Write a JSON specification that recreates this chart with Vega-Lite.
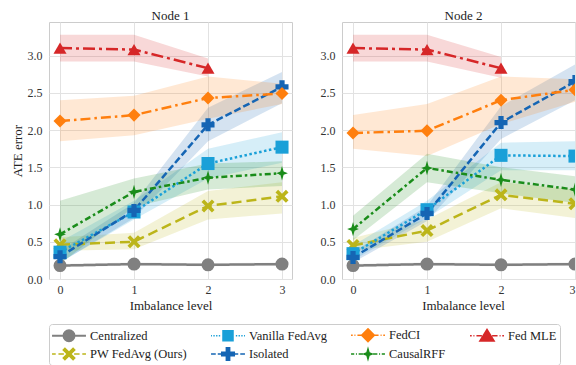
{
  "$schema": "https://vega.github.io/schema/vega-lite/v6.json",
  "background": "white",
  "padding": {"left": 10, "top": 9, "right": 0, "bottom": 0},
  "data": {"values": [
    {"node":"Node 1","method":"Centralized","level":0,"ate":0.18,"lo":0.16,"hi":0.20},
    {"node":"Node 1","method":"Centralized","level":1,"ate":0.20,"lo":0.18,"hi":0.22},
    {"node":"Node 1","method":"Centralized","level":2,"ate":0.19,"lo":0.17,"hi":0.21},
    {"node":"Node 1","method":"Centralized","level":3,"ate":0.20,"lo":0.18,"hi":0.22},
    {"node":"Node 1","method":"PW FedAvg (Ours)","level":0,"ate":0.46,"lo":0.38,"hi":0.56},
    {"node":"Node 1","method":"PW FedAvg (Ours)","level":1,"ate":0.50,"lo":0.40,"hi":0.62},
    {"node":"Node 1","method":"PW FedAvg (Ours)","level":2,"ate":0.98,"lo":0.80,"hi":1.18},
    {"node":"Node 1","method":"PW FedAvg (Ours)","level":3,"ate":1.11,"lo":0.88,"hi":1.30},
    {"node":"Node 1","method":"Vanilla FedAvg","level":0,"ate":0.36,"lo":0.22,"hi":0.50},
    {"node":"Node 1","method":"Vanilla FedAvg","level":1,"ate":0.90,"lo":0.80,"hi":1.05},
    {"node":"Node 1","method":"Vanilla FedAvg","level":2,"ate":1.55,"lo":1.35,"hi":1.75},
    {"node":"Node 1","method":"Vanilla FedAvg","level":3,"ate":1.77,"lo":1.56,"hi":1.97},
    {"node":"Node 1","method":"Isolated","level":0,"ate":0.30,"lo":0.22,"hi":0.38},
    {"node":"Node 1","method":"Isolated","level":1,"ate":0.92,"lo":0.82,"hi":1.02},
    {"node":"Node 1","method":"Isolated","level":2,"ate":2.07,"lo":1.85,"hi":2.30},
    {"node":"Node 1","method":"Isolated","level":3,"ate":2.58,"lo":2.36,"hi":2.78},
    {"node":"Node 1","method":"FedCI","level":0,"ate":2.12,"lo":1.85,"hi":2.40},
    {"node":"Node 1","method":"FedCI","level":1,"ate":2.20,"lo":1.93,"hi":2.46},
    {"node":"Node 1","method":"FedCI","level":2,"ate":2.43,"lo":2.15,"hi":2.72},
    {"node":"Node 1","method":"FedCI","level":3,"ate":2.49,"lo":2.35,"hi":2.62},
    {"node":"Node 1","method":"CausalRFF","level":0,"ate":0.60,"lo":0.20,"hi":1.05},
    {"node":"Node 1","method":"CausalRFF","level":1,"ate":1.17,"lo":0.97,"hi":1.35},
    {"node":"Node 1","method":"CausalRFF","level":2,"ate":1.36,"lo":1.20,"hi":1.55},
    {"node":"Node 1","method":"CausalRFF","level":3,"ate":1.42,"lo":1.25,"hi":1.58},
    {"node":"Node 1","method":"Fed MLE","level":0,"ate":3.10,"lo":2.92,"hi":3.28},
    {"node":"Node 1","method":"Fed MLE","level":1,"ate":3.08,"lo":2.92,"hi":3.28},
    {"node":"Node 1","method":"Fed MLE","level":2,"ate":2.83,"lo":2.72,"hi":2.96},
    {"node":"Node 2","method":"Centralized","level":0,"ate":0.18,"lo":0.16,"hi":0.20},
    {"node":"Node 2","method":"Centralized","level":1,"ate":0.20,"lo":0.18,"hi":0.22},
    {"node":"Node 2","method":"Centralized","level":2,"ate":0.19,"lo":0.17,"hi":0.21},
    {"node":"Node 2","method":"Centralized","level":3,"ate":0.20,"lo":0.18,"hi":0.22},
    {"node":"Node 2","method":"PW FedAvg (Ours)","level":0,"ate":0.45,"lo":0.38,"hi":0.55},
    {"node":"Node 2","method":"PW FedAvg (Ours)","level":1,"ate":0.65,"lo":0.50,"hi":0.80},
    {"node":"Node 2","method":"PW FedAvg (Ours)","level":2,"ate":1.13,"lo":0.95,"hi":1.30},
    {"node":"Node 2","method":"PW FedAvg (Ours)","level":3,"ate":1.01,"lo":0.82,"hi":1.20},
    {"node":"Node 2","method":"Vanilla FedAvg","level":0,"ate":0.34,"lo":0.25,"hi":0.45},
    {"node":"Node 2","method":"Vanilla FedAvg","level":1,"ate":0.93,"lo":0.82,"hi":1.05},
    {"node":"Node 2","method":"Vanilla FedAvg","level":2,"ate":1.66,"lo":1.46,"hi":1.83},
    {"node":"Node 2","method":"Vanilla FedAvg","level":3,"ate":1.65,"lo":1.46,"hi":1.85},
    {"node":"Node 2","method":"Isolated","level":0,"ate":0.29,"lo":0.22,"hi":0.36},
    {"node":"Node 2","method":"Isolated","level":1,"ate":0.88,"lo":0.78,"hi":0.98},
    {"node":"Node 2","method":"Isolated","level":2,"ate":2.10,"lo":1.88,"hi":2.32},
    {"node":"Node 2","method":"Isolated","level":3,"ate":2.65,"lo":2.40,"hi":2.88},
    {"node":"Node 2","method":"FedCI","level":0,"ate":1.96,"lo":1.75,"hi":2.20},
    {"node":"Node 2","method":"FedCI","level":1,"ate":1.99,"lo":1.65,"hi":2.35},
    {"node":"Node 2","method":"FedCI","level":2,"ate":2.40,"lo":2.08,"hi":2.72},
    {"node":"Node 2","method":"FedCI","level":3,"ate":2.54,"lo":2.38,"hi":2.68},
    {"node":"Node 2","method":"CausalRFF","level":0,"ate":0.67,"lo":0.52,"hi":0.85},
    {"node":"Node 2","method":"CausalRFF","level":1,"ate":1.49,"lo":1.30,"hi":1.68},
    {"node":"Node 2","method":"CausalRFF","level":2,"ate":1.33,"lo":1.15,"hi":1.50},
    {"node":"Node 2","method":"CausalRFF","level":3,"ate":1.20,"lo":1.02,"hi":1.38},
    {"node":"Node 2","method":"Fed MLE","level":0,"ate":3.10,"lo":2.92,"hi":3.28},
    {"node":"Node 2","method":"Fed MLE","level":1,"ate":3.08,"lo":2.92,"hi":3.28},
    {"node":"Node 2","method":"Fed MLE","level":2,"ate":2.83,"lo":2.70,"hi":2.98}
  ]},
  "spacing": 26,
  "hconcat": [
    {
      "title": "Node 1",
      "width": 243, "height": 257,
      "transform": [{"filter": "datum.node === 'Node 1'"}],
      "encoding": {
        "x": {"field": "level", "type": "quantitative", "scale": {"domain": [-0.149, 3.135], "nice": false, "zero": false}, "axis": {"values": [0,1,2,3], "title": "Imbalance level", "format": "d"}},
        "color": {"field": "method", "type": "nominal",
          "scale": {"domain": ["Centralized", "Vanilla FedAvg", "FedCI", "Fed MLE", "PW FedAvg (Ours)", "Isolated", "CausalRFF"],
                    "range": ["#808080", "#1aa0d8", "#ff7f0e", "#d62728", "#bcb51a", "#1565b4", "#1a8c1a"]},
          "legend": {"encode": {"symbols": {"update": {"opacity": {"value": 1}, "fillOpacity": {"value": 1}, "strokeWidth": {"value": 0}, "strokeDash": {"value": [1, 0]}}}}}}
      },
      "layer": [
        {"mark": {"type": "area", "opacity": 0.18},
         "encoding": {
           "y": {"field": "lo", "type": "quantitative", "scale": {"domain": [0, 3.45], "nice": false}, "axis": {"values": [0,0.5,1,1.5,2,2.5,3], "format": ".1f", "title": "ATE error"}},
           "y2": {"field": "hi"}
         }},
        {"mark": {"type": "line", "strokeWidth": 2.5},
         "encoding": {
           "y": {"field": "ate", "type": "quantitative"},
           "strokeDash": {"field": "method", "type": "nominal", "legend": null,
             "scale": {"domain": ["Centralized", "Vanilla FedAvg", "FedCI", "Fed MLE", "PW FedAvg (Ours)", "Isolated", "CausalRFF"],
                       "range": [[1,0], [2.5,2.5], [10,4,2.5,4], [12,4,3,4], [10,5], [7,3], [6,3,2.5,3]]}}
         }},
        {"mark": {"type": "point", "filled": true, "opacity": 1, "size": 170,
           "shape": {"expr": "datum.method === 'Centralized' ? 'circle' : datum.method === 'PW FedAvg (Ours)' ? 'M-1,-0.6L-0.6,-1L0,-0.4L0.6,-1L1,-0.6L0.4,0L1,0.6L0.6,1L0,0.4L-0.6,1L-1,0.6L-0.4,0Z' : datum.method === 'Vanilla FedAvg' ? 'square' : datum.method === 'Isolated' ? 'cross' : datum.method === 'FedCI' ? 'diamond' : datum.method === 'CausalRFF' ? 'M0,-1.1L0.25,-0.25L0.9,0L0.25,0.25L0,1.1L-0.25,0.25L-0.9,0L-0.25,-0.25Z' : 'triangle-up'"}},
         "encoding": {
           "y": {"field": "ate", "type": "quantitative"}
         }},
        {"mark": {"type": "point", "filled": true, "opacity": 0, "clip": true},
         "encoding": {
           "y": {"field": "ate", "type": "quantitative"},
           "shape": {"field": "method", "type": "nominal",
             "scale": {"domain": ["Centralized", "Vanilla FedAvg", "FedCI", "Fed MLE", "PW FedAvg (Ours)", "Isolated", "CausalRFF"],
               "range": [
                 "M-2.12,-0.12L-0.64,-0.12L-0.64,0.12L-2.12,0.12ZM0.64,-0.12L2.12,-0.12L2.12,0.12L0.64,0.12ZM0.81,0L0.748,0.31L0.573,0.573L0.31,0.748L0,0.81L-0.31,0.748L-0.573,0.573L-0.748,0.31L-0.81,0L-0.748,-0.31L-0.573,-0.573L-0.31,-0.748L0,-0.81L0.31,-0.748L0.573,-0.573L0.748,-0.31Z",
                 "M-2.12,-0.085L-2,-0.085L-2,0.085L-2.12,0.085ZM-1.83,-0.085L-1.66,-0.085L-1.66,0.085L-1.83,0.085ZM-1.49,-0.085L-1.32,-0.085L-1.32,0.085L-1.49,0.085ZM-1.15,-0.085L-0.98,-0.085L-0.98,0.085L-1.15,0.085ZM0.98,-0.085L1.15,-0.085L1.15,0.085L0.98,0.085ZM1.32,-0.085L1.49,-0.085L1.49,0.085L1.32,0.085ZM1.66,-0.085L1.83,-0.085L1.83,0.085L1.66,0.085ZM2,-0.085L2.12,-0.085L2.12,0.085L2,0.085ZM-0.72,-0.72L0.72,-0.72L0.72,0.72L-0.72,0.72Z",
                 "M-2.12,-0.085L-1.91,-0.085L-1.91,0.085L-2.12,0.085ZM-1.7,-0.085L-1.57,-0.085L-1.57,0.085L-1.7,0.085ZM-1.32,-0.085L-0.64,-0.085L-0.64,0.085L-1.32,0.085ZM0.64,-0.085L1.32,-0.085L1.32,0.085L0.64,0.085ZM1.57,-0.085L1.7,-0.085L1.7,0.085L1.57,0.085ZM1.91,-0.085L2.12,-0.085L2.12,0.085L1.91,0.085ZM0,-0.93L0.93,0L0,0.93L-0.93,0Z",
                 "M-2.12,-0.085L-1.91,-0.085L-1.91,0.085L-2.12,0.085ZM-1.7,-0.085L-1.57,-0.085L-1.57,0.085L-1.7,0.085ZM-1.32,-0.085L-0.64,-0.085L-0.64,0.085L-1.32,0.085ZM0.64,-0.085L1.32,-0.085L1.32,0.085L0.64,0.085ZM1.57,-0.085L1.7,-0.085L1.7,0.085L1.57,0.085ZM1.91,-0.085L2.12,-0.085L2.12,0.085L1.91,0.085ZM0,-0.98L1.06,0.76L-1.06,0.76Z",
                 "M-2.12,-0.085L-1.66,-0.085L-1.66,0.085L-2.12,0.085ZM-1.32,-0.085L-0.64,-0.085L-0.64,0.085L-1.32,0.085ZM0.64,-0.085L1.32,-0.085L1.32,0.085L0.64,0.085ZM1.66,-0.085L2.12,-0.085L2.12,0.085L1.66,0.085ZM-0.85,-0.51L-0.51,-0.85L0,-0.34L0.51,-0.85L0.85,-0.51L0.34,0L0.85,0.51L0.51,0.85L0,0.34L-0.51,0.85L-0.85,0.51L-0.34,0Z",
                 "M-2.12,-0.085L-1.53,-0.085L-1.53,0.085L-2.12,0.085ZM-1.28,-0.085L-0.64,-0.085L-0.64,0.085L-1.28,0.085ZM0.64,-0.085L1.28,-0.085L1.28,0.085L0.64,0.085ZM1.53,-0.085L2.12,-0.085L2.12,0.085L1.53,0.085ZM-0.3,-0.88L0.3,-0.88L0.3,-0.3L0.88,-0.3L0.88,0.3L0.3,0.3L0.3,0.88L-0.3,0.88L-0.3,0.3L-0.88,0.3L-0.88,-0.3L-0.3,-0.3Z",
                 "M-2.12,-0.085L-1.72,-0.085L-1.72,0.085L-2.12,0.085ZM-1.51,-0.085L-1.38,-0.085L-1.38,0.085L-1.51,0.085ZM-1.17,-0.085L-0.64,-0.085L-0.64,0.085L-1.17,0.085ZM0.64,-0.085L1.17,-0.085L1.17,0.085L0.64,0.085ZM1.38,-0.085L1.51,-0.085L1.51,0.085L1.38,0.085ZM1.72,-0.085L2.12,-0.085L2.12,0.085L1.72,0.085ZM0,-0.98L0.21,-0.21L0.76,0L0.21,0.21L0,0.98L-0.21,0.21L-0.76,0L-0.21,-0.21Z"
               ]}}
         }}
      ]
    },
    {
      "title": {"text": "Node 2", "dx": 5},
      "width": 233, "height": 257,
      "transform": [{"filter": "datum.node === 'Node 2'"}],
      "encoding": {
        "x": {"field": "level", "type": "quantitative", "scale": {"domain": [-0.149, 3.0], "nice": false, "zero": false}, "axis": {"values": [0,1,2,3], "title": "Imbalance level", "format": "d", "labelFlush": 1, "titleX": 121}},
        "color": {"field": "method", "type": "nominal",
          "scale": {"domain": ["Centralized", "Vanilla FedAvg", "FedCI", "Fed MLE", "PW FedAvg (Ours)", "Isolated", "CausalRFF"],
                    "range": ["#808080", "#1aa0d8", "#ff7f0e", "#d62728", "#bcb51a", "#1565b4", "#1a8c1a"]},
          "legend": {"encode": {"symbols": {"update": {"opacity": {"value": 1}, "fillOpacity": {"value": 1}, "strokeWidth": {"value": 0}, "strokeDash": {"value": [1, 0]}}}}}}
      },
      "layer": [
        {"mark": {"type": "area", "opacity": 0.18, "clip": true},
         "encoding": {
           "y": {"field": "lo", "type": "quantitative", "scale": {"domain": [0, 3.45], "nice": false}, "axis": {"values": [0,0.5,1,1.5,2,2.5,3], "format": ".1f", "title": null}},
           "y2": {"field": "hi"}
         }},
        {"mark": {"type": "line", "strokeWidth": 2.5, "clip": true},
         "encoding": {
           "y": {"field": "ate", "type": "quantitative"},
           "strokeDash": {"field": "method", "type": "nominal", "legend": null,
             "scale": {"domain": ["Centralized", "Vanilla FedAvg", "FedCI", "Fed MLE", "PW FedAvg (Ours)", "Isolated", "CausalRFF"],
                       "range": [[1,0], [2.5,2.5], [10,4,2.5,4], [12,4,3,4], [10,5], [7,3], [6,3,2.5,3]]}}
         }},
        {"mark": {"type": "point", "filled": true, "opacity": 1, "size": 170, "clip": true,
           "shape": {"expr": "datum.method === 'Centralized' ? 'circle' : datum.method === 'PW FedAvg (Ours)' ? 'M-1,-0.6L-0.6,-1L0,-0.4L0.6,-1L1,-0.6L0.4,0L1,0.6L0.6,1L0,0.4L-0.6,1L-1,0.6L-0.4,0Z' : datum.method === 'Vanilla FedAvg' ? 'square' : datum.method === 'Isolated' ? 'cross' : datum.method === 'FedCI' ? 'diamond' : datum.method === 'CausalRFF' ? 'M0,-1.1L0.25,-0.25L0.9,0L0.25,0.25L0,1.1L-0.25,0.25L-0.9,0L-0.25,-0.25Z' : 'triangle-up'"}},
         "encoding": {
           "y": {"field": "ate", "type": "quantitative"}
         }}
      ]
    }
  ],
  "resolve": {"scale": {"color": "shared", "shape": "shared", "strokeDash": "shared"}},
  "config": {
    "font": "Liberation Serif",
    "view": {"stroke": "#cccccc", "strokeWidth": 1},
    "title": {"font": "Liberation Serif", "fontSize": 13, "fontWeight": "normal", "color": "#222", "offset": -1},
    "axis": {"labelFont": "Liberation Serif", "titleFont": "Liberation Serif", "labelFontSize": 12, "titleFontSize": 13, "titleFontWeight": "normal", "labelColor": "#333", "titleColor": "#222", "domain": false, "ticks": false, "gridColor": "#e2e2e2", "gridWidth": 1},
    "axisY": {"titlePadding": 3, "labelPadding": 7},
    "axisX": {"titlePadding": 4, "labelPadding": 5},
    "legend": {"orient": "bottom", "columns": 4, "title": null, "labelFont": "Liberation Serif", "labelFontSize": 12.5, "labelColor": "#222", "strokeColor": "#cccccc", "padding": 3, "cornerRadius": 3, "symbolSize": 256, "symbolOffset": 9, "symbolStrokeWidth": 0, "symbolOpacity": 1, "columnPadding": 24, "rowPadding": 3, "offset": 11, "labelOffset": 13, "labelLimit": 300}
  }
}
